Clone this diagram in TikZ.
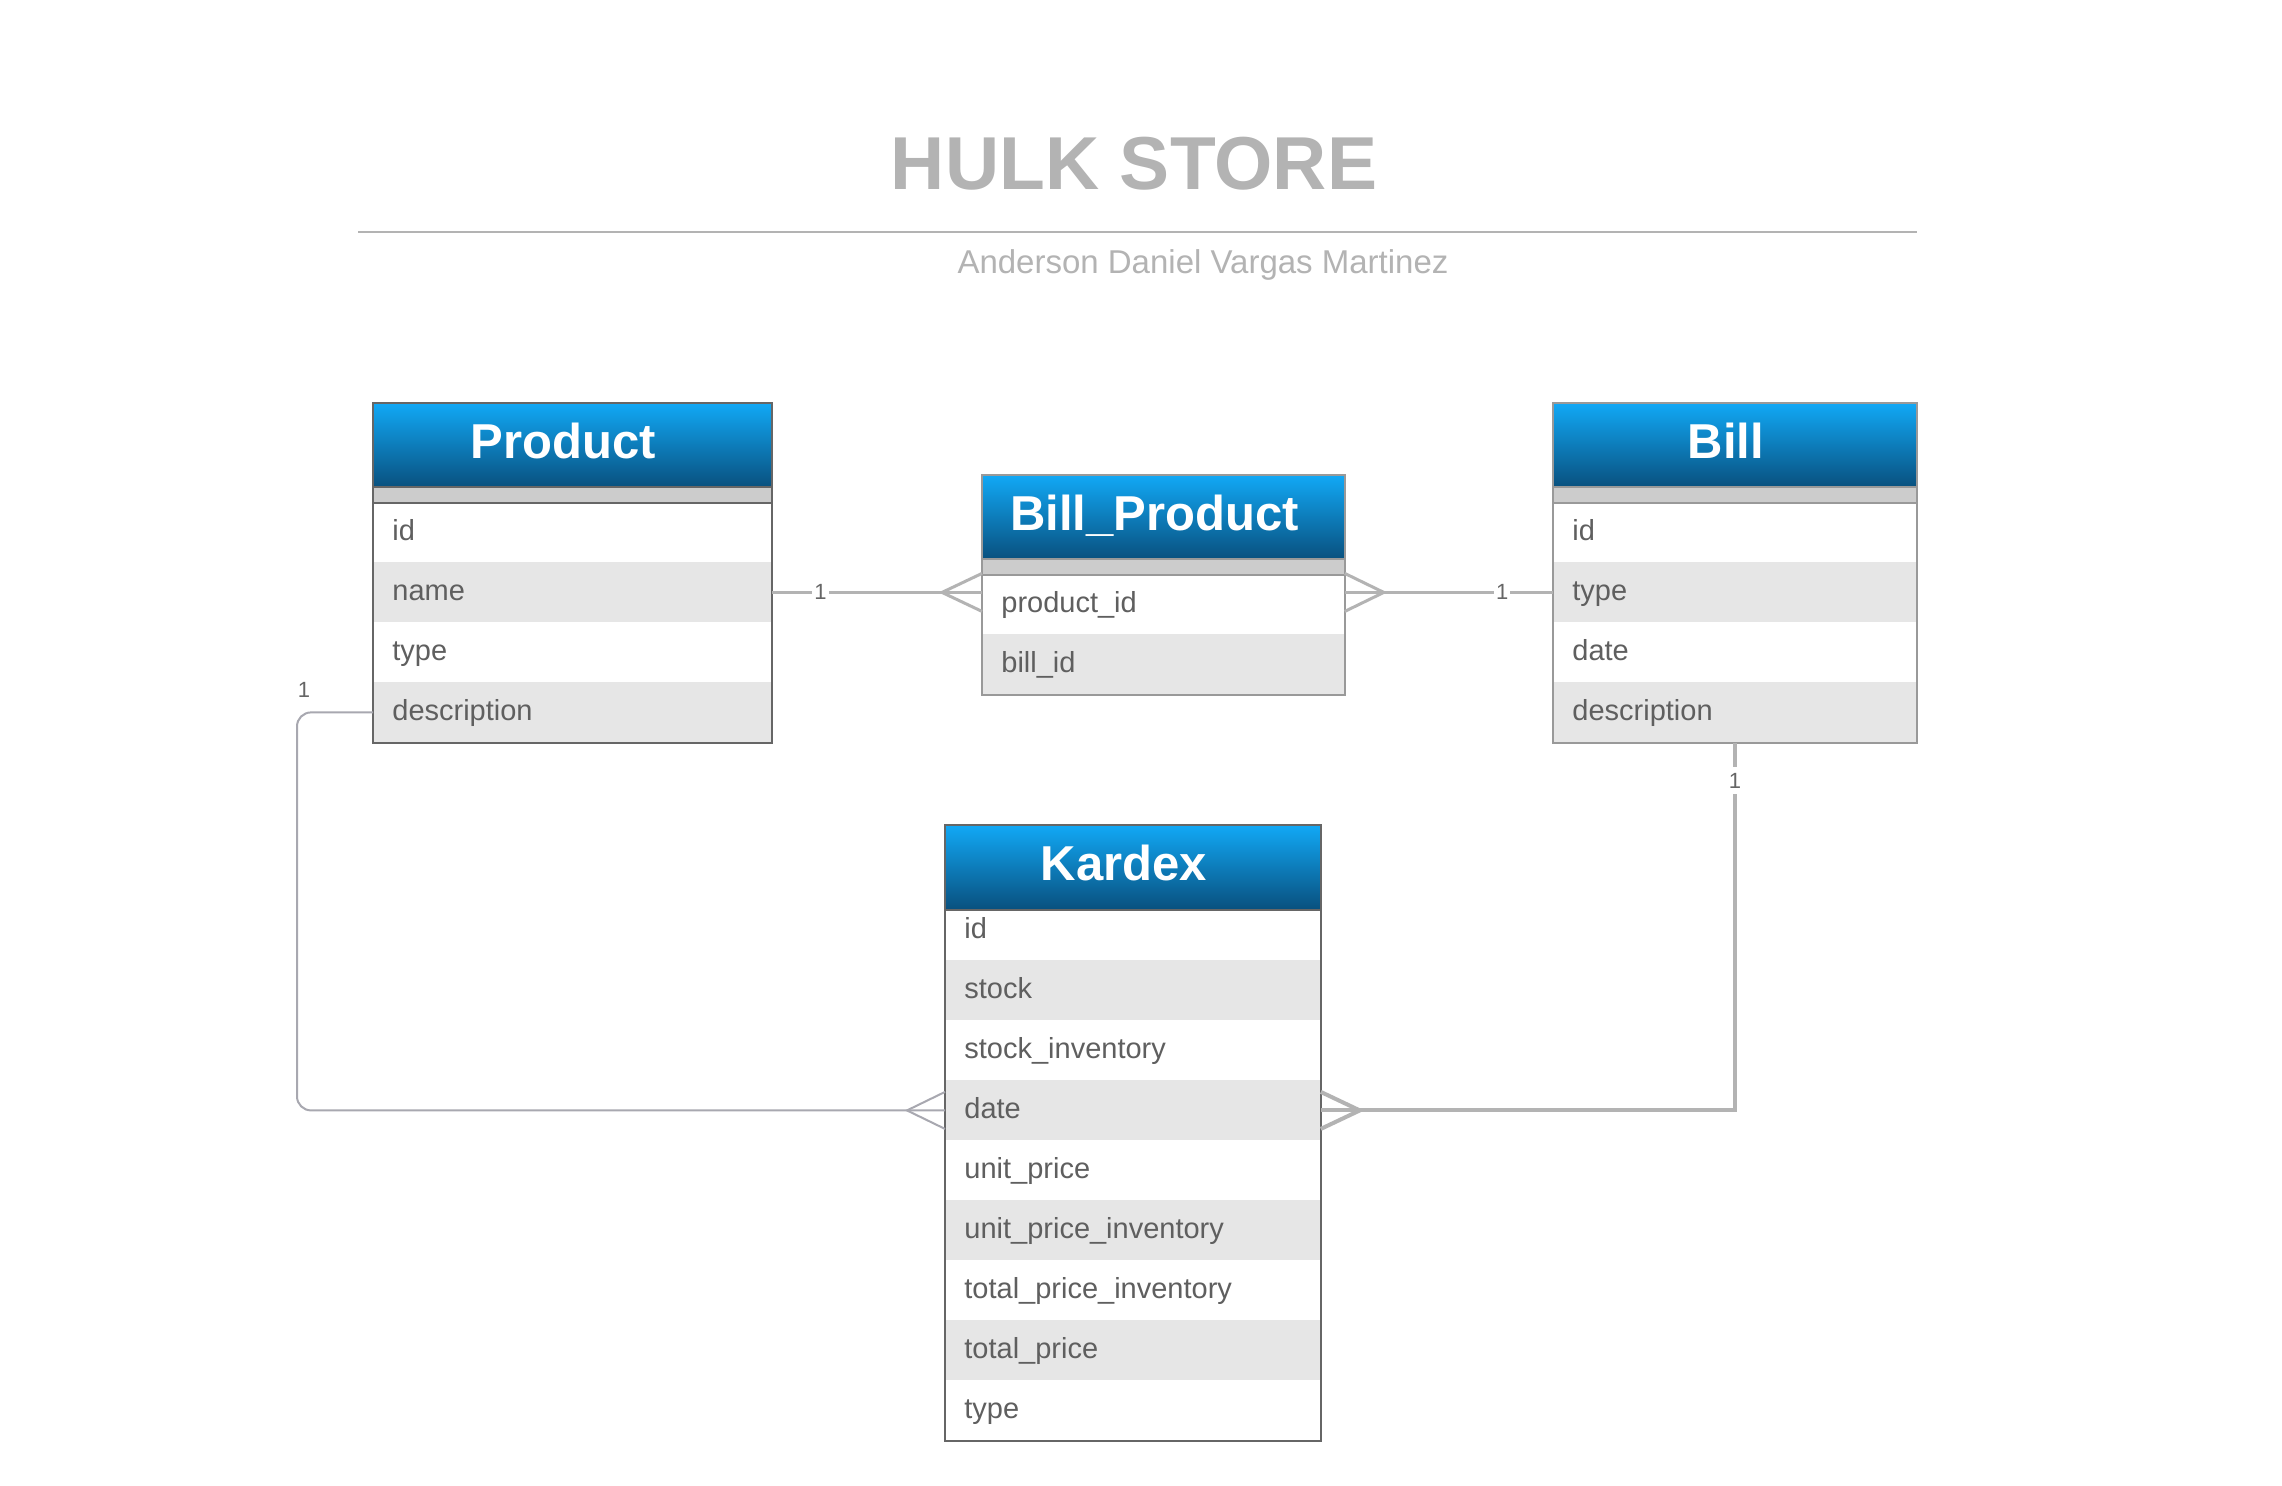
\documentclass[tikz,border=0pt]{standalone}
\usepackage{fontspec}
\setmainfont{Liberation Sans}
\usetikzlibrary{calc}
\definecolor{hdtop}{RGB}{17,168,245}
\definecolor{hdbot}{RGB}{9,80,126}
\definecolor{stripc}{RGB}{204,204,204}
\definecolor{altc}{RGB}{230,230,230}
\definecolor{txtc}{RGB}{95,95,95}
\definecolor{bdark}{RGB}{102,102,102}
\definecolor{blight}{RGB}{153,153,153}
\definecolor{connc}{RGB}{179,179,179}
\definecolor{connthinc}{RGB}{168,168,176}
\definecolor{titlec}{RGB}{179,179,179}
\definecolor{lblc}{RGB}{102,102,102}
\begin{document}
\begin{tikzpicture}[x=0.5pt,y=-0.5pt,
  headbox/.style={rectangle, inner sep=0pt, anchor=north west, top color=hdtop, bottom color=hdbot, minimum height=42pt, minimum width=#1},
  headtxt/.style={anchor=base, text=white, font=\fontsize{24.5}{28}\selectfont\bfseries, inner sep=0pt},
  stripbox/.style={rectangle, inner sep=0pt, anchor=north west, fill=stripc, minimum height=7.5pt, minimum width=#1},
  rowbox/.style={rectangle, anchor=north west, inner xsep=9.5pt, inner ysep=0pt, minimum height=30pt, text width=#1, align=left, font=\fontsize{14.5}{17}\selectfont, text=txtc, text height=9pt, text depth=1pt},
  bdr/.style={draw=#1, line width=1pt},
  connthick/.style={draw=connc, line width=1.5pt},
  connheavy/.style={draw=connc, line width=2pt},
  connthin/.style={draw=connthinc, line width=1pt},
  lbl/.style={font=\fontsize{11}{12}\selectfont, text=lblc, inner sep=1pt},
  lblbg/.style={lbl, fill=white}
]
\useasboundingbox[fill=white] (0,0) rectangle (2282,1485);

% ---------- title ----------
\node[anchor=base, text=titlec, font=\fontsize{37.5}{42}\selectfont\bfseries, inner sep=0pt] (title) at (1134,189) {HULK STORE};
\coordinate (ruleL) at (358,232);
\coordinate (ruleR) at (1917,232);
\draw[draw=titlec, line width=1pt] (ruleL) -- (ruleR);
\node[anchor=base, text=titlec, font=\fontsize{16.5}{19}\selectfont, inner sep=0pt] (author) at (1203,273) {Anderson Daniel Vargas Martinez};

% ---------- Product ----------
\foreach \t/\f [count=\i] in {id/white,name/altc,type/white,description/altc}
  \node[rowbox=180pt, fill=\f] (p-\i) at (373,{502+60*(\i-1)}) {\t};
\node[headbox=199pt] (p-head) at (373,403) {};
\node[stripbox=199pt] (p-strip) at (373,487) {};
\node[headtxt] (p-title) at ([xshift=-4.5pt,yshift=-6.5pt]p-head.center) {Product};
\draw[bdr=bdark] (p-head.north west) rectangle (p-4.south east);
\draw[bdr=bdark] (p-strip.north west) -- (p-strip.north east);
\draw[bdr=bdark] (p-strip.south west) -- (p-strip.south east);

% ---------- Bill_Product ----------
\foreach \t/\f [count=\i] in {product\_id/white,bill\_id/altc}
  \node[rowbox=162pt, fill=\f] (bp-\i) at (982,{574+60*(\i-1)}) {\t};
\node[headbox=181pt] (bp-head) at (982,475) {};
\node[stripbox=181pt] (bp-strip) at (982,559) {};
\node[headtxt] (bp-title) at ([xshift=-4.5pt,yshift=-6.5pt]bp-head.center) {Bill\_Product};
\draw[bdr=blight] (bp-head.north west) rectangle (bp-2.south east);
\draw[bdr=blight] (bp-strip.north west) -- (bp-strip.north east);
\draw[bdr=blight] (bp-strip.south west) -- (bp-strip.south east);

% ---------- Bill ----------
\foreach \t/\f [count=\i] in {id/white,type/altc,date/white,description/altc}
  \node[rowbox=162.5pt, fill=\f] (b-\i) at (1553,{502+60*(\i-1)}) {\t};
\node[headbox=181.5pt] (b-head) at (1553,403) {};
\node[stripbox=181.5pt] (b-strip) at (1553,487) {};
\node[headtxt] (b-title) at ([xshift=-4.5pt,yshift=-6.5pt]b-head.center) {Bill};
\draw[bdr=blight] (b-head.north west) rectangle (b-4.south east);
\draw[bdr=blight] (b-strip.north west) -- (b-strip.north east);
\draw[bdr=blight] (b-strip.south west) -- (b-strip.south east);

% ---------- Kardex ----------
\foreach \t/\f [count=\i] in {id/white,stock/altc,stock\_inventory/white,date/altc,unit\_price/white,unit\_price\_inventory/altc,total\_price\_inventory/white,total\_price/altc,type/white}
  \node[rowbox=168.5pt, fill=\f] (k-\i) at (945,{900+60*(\i-1)}) {\t};
\node[headbox=187.5pt] (k-head) at (945,825) {};
\node[headtxt] (k-title) at ([xshift=-4.5pt,yshift=-6.5pt]k-head.center) {Kardex};
\draw[bdr=bdark] (k-head.north west) rectangle (k-9.south east);
\draw[bdr=bdark] (k-head.south west) -- (k-head.south east);

% ---------- Product -- Bill_Product ----------
\coordinate (bpL) at (p-2.east -| bp-1.west);
\draw[connthick] (p-2.east) -- node[lblbg, pos=0.232] (l1) {1} (bpL);
\coordinate (bpLtip) at ([xshift=-20pt]bpL);
\draw[connthick] ([yshift=9.5pt]bpL) -- (bpLtip) -- ([yshift=-9.5pt]bpL);

% ---------- Bill_Product -- Bill ----------
\coordinate (bpR) at (b-2.west -| bp-1.east);
\draw[connthick] (b-2.west) -- node[lblbg, pos=0.244] (l2) {1} (bpR);
\coordinate (bpRtip) at ([xshift=19.5pt]bpR);
\draw[connthick] ([yshift=9.5pt]bpR) -- (bpRtip) -- ([yshift=-9.5pt]bpR);

% ---------- Product -- Kardex ----------
\draw[connthin, rounded corners=7pt] (p-4.west) -- ++(-76,0) |- (k-4.west);
\node[lbl] (l3) at ([xshift=-34.5pt,yshift=11pt]p-4.west) {1};
\coordinate (kLtip) at ([xshift=-19pt]k-4.west);
\draw[connthin] ([yshift=9.25pt]k-4.west) -- (kLtip) -- ([yshift=-9.25pt]k-4.west);

% ---------- Bill -- Kardex ----------
\coordinate (bk) at (b-4.south |- k-4.east);
\draw[connheavy] (b-4.south) -- node[lblbg, inner ysep=3pt, pos=0.103] (l4) {1} (bk) -- (k-4.east);
\coordinate (kRtip) at ([xshift=19.5pt]k-4.east);
\draw[connheavy] ([yshift=9.25pt]k-4.east) -- (kRtip) -- ([yshift=-9.25pt]k-4.east);
\end{tikzpicture}
\end{document}
